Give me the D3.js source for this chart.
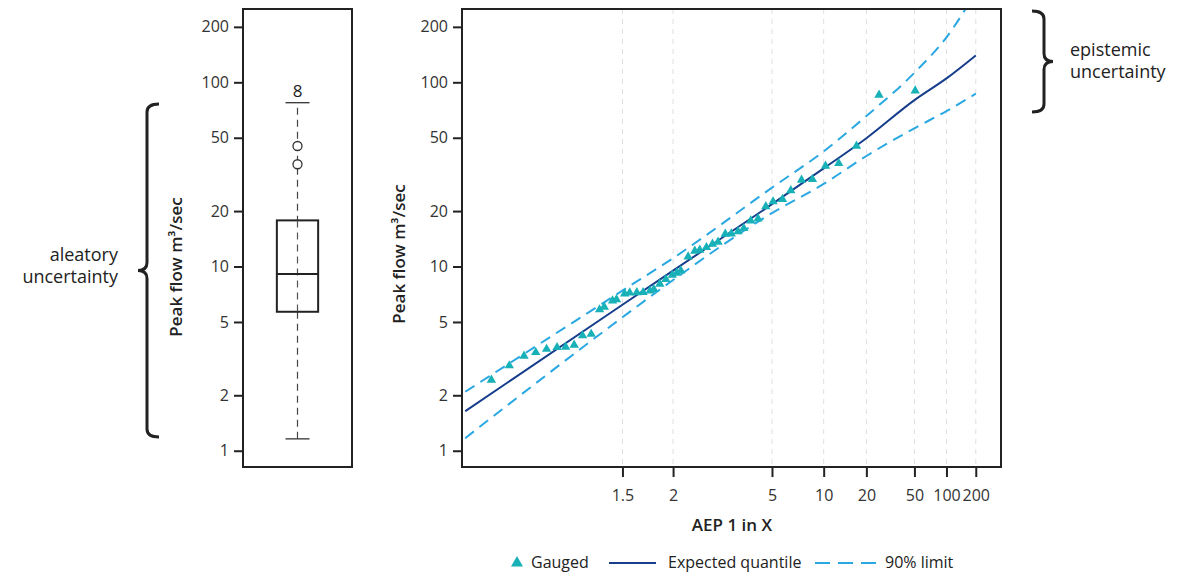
<!DOCTYPE html>
<html>
<head>
<meta charset="utf-8">
<script src="https://cdn.jsdelivr.net/npm/d3@7"></script>
<style>
  body { margin: 0; background: #fff; }
  svg { font-family: "Open Sans", sans-serif; }
</style>
</head>
<body>
<div id="my_dataviz"></div>
<script>
// y ticks shared by both panels
var yTicks = [1, 2, 5, 10, 20, 50, 100, 200];
// x ticks, AEP "1 in X"
var xTicks = [1.5, 2, 5, 10, 20, 50, 100, 200];

// boxplot of gauged peaks: whisker low, q1, median, q3, whisker high
var boxQuantiles = [1.16, 5.68, 9.1, 17.8, 77.5];
var boxOutliers = [45.1, 35.9];
var boxLabel = "8";

// gauged annual maxima (AEP 1 in X, flow)
var gaugedX = [1.065, 1.089, 1.114, 1.138, 1.164, 1.193, 1.220, 1.250, 1.283, 1.321,
  1.362, 1.387, 1.435, 1.460, 1.516, 1.553, 1.610, 1.665, 1.731, 1.770,
  1.835, 1.906, 1.989, 2.051, 2.111, 2.227, 2.344, 2.438, 2.576, 2.712,
  2.850, 3.044, 3.223, 3.447, 3.655, 3.932, 4.259, 4.649, 5.066, 5.685,
  6.321, 7.289, 8.489, 10.28, 12.61, 16.86, 25.1, 50.8];
var gaugedQ = [2.42, 2.90, 3.27, 3.42, 3.56, 3.64, 3.66, 3.75, 4.22, 4.30,
  5.84, 6.03, 6.52, 6.62, 7.12, 7.21, 7.23, 7.24, 7.38, 7.52,
  8.04, 8.52, 8.99, 9.22, 9.51, 11.30, 12.14, 12.29, 12.71, 13.25,
  13.59, 15.01, 15.07, 15.49, 16.12, 17.73, 18.18, 21.17, 22.53, 23.20,
  25.86, 29.49, 29.75, 35.13, 36.34, 45.11, 85.3, 90.0];

// fitted curve and 90% limits
var curveX = [1.04, 1.5, 2, 5, 10, 20, 50, 100, 200];
var expectedQ = [1.64, 6.2, 9.5, 21.8, 34.1, 49.7, 80, 105, 140];
var upperQ = [2.09, 7.4, 11.1, 26.8, 42.2, 65.6, 112.7, 175.5, 307];
var lowerQ = [1.17, 5.3, 8.45, 19.5, 28.1, 39.8, 56.3, 69.8, 86.7];

var legendItems = ["Gauged", "Expected quantile", "90% limit"];

// inverse of the standard normal cdf (Acklam)
function normInv(p) {
  var a = [-3.969683028665376e+01, 2.209460984245205e+02, -2.759285104469687e+02,
    1.383577518672690e+02, -3.066479806614716e+01, 2.506628277459239e+00];
  var b = [-5.447609879822406e+01, 1.615858368580409e+02, -1.556989798598866e+02,
    6.680131188771972e+01, -1.328068155288572e+01];
  var c = [-7.784894002430293e-03, -3.223964580411365e-01, -2.400758277161838e+00,
    -2.549671010336083e+00, 4.374664141464968e+00, 2.938163982698783e+00];
  var d = [7.784695709041462e-03, 3.224671290700398e-01, 2.445134137142996e+00,
    3.754408661907416e+00];
  var plow = 0.02425, q, r;
  if (p < plow) {
    q = Math.sqrt(-2 * Math.log(p));
    return (((((c[0]*q+c[1])*q+c[2])*q+c[3])*q+c[4])*q+c[5]) / ((((d[0]*q+d[1])*q+d[2])*q+d[3])*q+1);
  }
  if (p <= 1 - plow) {
    q = p - 0.5; r = q * q;
    return (((((a[0]*r+a[1])*r+a[2])*r+a[3])*r+a[4])*r+a[5])*q / (((((b[0]*r+b[1])*r+b[2])*r+b[3])*r+b[4])*r+1);
  }
  q = Math.sqrt(-2 * Math.log(1 - p));
  return -(((((c[0]*q+c[1])*q+c[2])*q+c[3])*q+c[4])*q+c[5]) / ((((d[0]*q+d[1])*q+d[2])*q+d[3])*q+1);
}
function zOf(aep) { return normInv(1 - 1 / aep); }

var width = 1183, height = 576;
var plotTop = 9, plotBottom = 467;

var svg = d3.select("#my_dataviz")
  .append("svg")
  .attr("width", width)
  .attr("height", height);

var y = d3.scaleLog().domain([0.816, 250]).range([plotBottom, plotTop]);

// ---------- box panel ----------
var boxL = 243, boxR = 352;
var bx = d3.scaleBand().domain(["gauged"]).range([boxL, boxR]).paddingInner(0).paddingOuter(0.82);
var cx = bx("gauged") + bx.bandwidth() / 2;

var yAxisBox = svg.append("g")
  .attr("transform", "translate(" + boxL + ",0)")
  .call(d3.axisLeft(y).tickValues(yTicks).tickFormat(d3.format("d")).tickSize(9).tickPadding(5));
yAxisBox.select(".domain").remove();

var boxG = svg.append("g");
boxG.append("line")
  .attr("x1", cx).attr("x2", cx)
  .attr("y1", y(boxQuantiles[0])).attr("y2", y(boxQuantiles[4]))
  .attr("stroke", "#444").attr("stroke-width", 1.2).attr("stroke-dasharray", "7,5");
boxG.selectAll("cap")
  .data([boxQuantiles[0], boxQuantiles[4]])
  .enter().append("line")
  .attr("x1", cx - 12).attr("x2", cx + 12)
  .attr("y1", function (d) { return y(d); }).attr("y2", function (d) { return y(d); })
  .attr("stroke", "#333").attr("stroke-width", 1.3);
boxG.append("rect")
  .attr("x", bx("gauged")).attr("width", bx.bandwidth())
  .attr("y", y(boxQuantiles[3])).attr("height", y(boxQuantiles[1]) - y(boxQuantiles[3]))
  .attr("fill", "#fff").attr("stroke", "#222").attr("stroke-width", 2);
boxG.append("line")
  .attr("x1", cx).attr("x2", cx)
  .attr("y1", y(boxQuantiles[3])).attr("y2", y(boxQuantiles[1]))
  .attr("stroke", "#555").attr("stroke-width", 1.2).attr("stroke-dasharray", "7,5");
boxG.append("line")
  .attr("x1", bx("gauged")).attr("x2", bx("gauged") + bx.bandwidth())
  .attr("y1", y(boxQuantiles[2])).attr("y2", y(boxQuantiles[2]))
  .attr("stroke", "#222").attr("stroke-width", 2);
boxG.selectAll("outlier")
  .data(boxOutliers)
  .enter().append("circle")
  .attr("cx", cx).attr("cy", function (d) { return y(d); }).attr("r", 4.5)
  .attr("fill", "#fff").attr("stroke", "#333").attr("stroke-width", 1.3);
boxG.append("text")
  .attr("x", cx).attr("y", y(boxQuantiles[4]) - 6)
  .attr("text-anchor", "middle").style("font-size", "17px").attr("fill", "#222")
  .text(boxLabel);

svg.append("rect")
  .attr("x", boxL).attr("y", plotTop).attr("width", boxR - boxL).attr("height", plotBottom - plotTop)
  .attr("fill", "none").attr("stroke", "#222").attr("stroke-width", 2);

svg.append("text")
  .attr("transform", "translate(182,267) rotate(-90)")
  .attr("text-anchor", "middle").style("font-size", "17px").style("font-weight", 600).attr("fill", "#222")
  .text("Peak flow m³/sec");

// ---------- main panel ----------
var mainL = 462, mainR = 1001;
var x = d3.scaleLinear().domain([zOf(1.0376), zOf(380)]).range([mainL, mainR]);
function px(aep) { return x(zOf(aep)); }

svg.append("defs").append("clipPath").attr("id", "clip")
  .append("rect").attr("x", mainL).attr("y", plotTop).attr("width", mainR - mainL).attr("height", plotBottom - plotTop);

svg.append("g").selectAll("grid")
  .data(xTicks)
  .enter().append("line")
  .attr("x1", px).attr("x2", px)
  .attr("y1", plotTop).attr("y2", plotBottom)
  .attr("stroke", "#e0e0e0").attr("stroke-width", 1).attr("stroke-dasharray", "5,5");

var yAxisMain = svg.append("g")
  .attr("transform", "translate(" + mainL + ",0)")
  .call(d3.axisLeft(y).tickValues(yTicks).tickFormat(d3.format("d")).tickSize(9).tickPadding(5));
yAxisMain.select(".domain").remove();

var xAxisMain = svg.append("g")
  .attr("transform", "translate(0," + plotBottom + ")")
  .call(d3.axisBottom(x)
    .tickValues(xTicks.map(zOf))
    .tickFormat(function (d, i) { return String(xTicks[i]); })
    .tickSize(10).tickPadding(13));
xAxisMain.select(".domain").remove();

svg.selectAll(".tick line").attr("stroke", "#222").attr("stroke-width", 2);
svg.selectAll(".tick text").attr("fill", "#333").style("font-size", "16px").style("font-family", "'Open Sans', sans-serif");

var plot = svg.append("g").attr("clip-path", "url(#clip)");

var line = d3.line()
  .x(function (d) { return px(d[0]); })
  .y(function (d) { return y(d[1]); })
  .curve(d3.curveMonotoneX);

plot.append("path")
  .datum(d3.zip(curveX, upperQ))
  .attr("d", line).attr("fill", "none")
  .attr("stroke", "#2aa8e2").attr("stroke-width", 2).attr("stroke-dasharray", "11,7");
plot.append("path")
  .datum(d3.zip(curveX, lowerQ))
  .attr("d", line).attr("fill", "none")
  .attr("stroke", "#2aa8e2").attr("stroke-width", 2).attr("stroke-dasharray", "11,7");
plot.append("path")
  .datum(d3.zip(curveX, expectedQ))
  .attr("d", line).attr("fill", "none")
  .attr("stroke", "#173e8c").attr("stroke-width", 2);

var tri = d3.symbol().type(d3.symbolTriangle).size(38);
plot.selectAll("gauged")
  .data(d3.zip(gaugedX, gaugedQ))
  .enter().append("path")
  .attr("d", tri)
  .attr("transform", function (d) { return "translate(" + px(d[0]) + "," + y(d[1]) + ")"; })
  .attr("fill", "#17b1b7");

svg.append("rect")
  .attr("x", mainL).attr("y", plotTop).attr("width", mainR - mainL).attr("height", plotBottom - plotTop)
  .attr("fill", "none").attr("stroke", "#222").attr("stroke-width", 2);

svg.append("text")
  .attr("transform", "translate(405,254) rotate(-90)")
  .attr("text-anchor", "middle").style("font-size", "17px").style("font-weight", 600).attr("fill", "#222")
  .text("Peak flow m³/sec");

svg.append("text")
  .attr("x", 732).attr("y", 531)
  .attr("text-anchor", "middle").style("font-size", "17px").style("font-weight", 600).attr("fill", "#222")
  .text("AEP 1 in X");

// ---------- braces ----------
function brace(xEdge, xTip, y0, y1, dir) {
  var ym = (y0 + y1) / 2, xs = xEdge + dir * 12, k = 8;
  return "M" + xEdge + "," + y0 +
    " Q" + xs + "," + y0 + " " + xs + "," + (y0 + k) +
    " L" + xs + "," + (ym - k) +
    " Q" + xs + "," + ym + " " + xTip + "," + ym +
    " Q" + xs + "," + ym + " " + xs + "," + (ym + k) +
    " L" + xs + "," + (y1 - k) +
    " Q" + xs + "," + y1 + " " + xEdge + "," + y1;
}
svg.append("path").attr("d", brace(159, 138, 104, 437, -1))
  .attr("fill", "none").attr("stroke", "#222").attr("stroke-width", 3);
svg.append("path").attr("d", brace(1032, 1053, 11, 112, 1))
  .attr("fill", "none").attr("stroke", "#222").attr("stroke-width", 3);

var ale = svg.append("text").attr("text-anchor", "end").style("font-size", "18px").attr("fill", "#222");
ale.append("tspan").attr("x", 118).attr("y", 261).text("aleatory");
ale.append("tspan").attr("x", 118).attr("y", 283).text("uncertainty");
var epi = svg.append("text").attr("text-anchor", "start").style("font-size", "18px").attr("fill", "#222");
epi.append("tspan").attr("x", 1070).attr("y", 56).text("epistemic");
epi.append("tspan").attr("x", 1070).attr("y", 78).text("uncertainty");

// ---------- legend ----------
var lg = svg.append("g");
lg.append("path").attr("d", d3.symbol().type(d3.symbolTriangle).size(62))
  .attr("transform", "translate(517,563)").attr("fill", "#17b1b7");
lg.append("line").attr("x1", 609).attr("x2", 656).attr("y1", 563).attr("y2", 563)
  .attr("stroke", "#173e8c").attr("stroke-width", 2);
lg.append("line").attr("x1", 815).attr("x2", 877).attr("y1", 563).attr("y2", 563)
  .attr("stroke", "#2aa8e2").attr("stroke-width", 2).attr("stroke-dasharray", "15,8");
lg.selectAll("lt")
  .data(legendItems)
  .enter().append("text")
  .attr("x", function (d, i) { return [531, 668, 885][i]; })
  .attr("y", 568)
  .style("font-size", "16px").attr("fill", "#222")
  .text(function (d) { return d; });
</script>
</body>
</html>
